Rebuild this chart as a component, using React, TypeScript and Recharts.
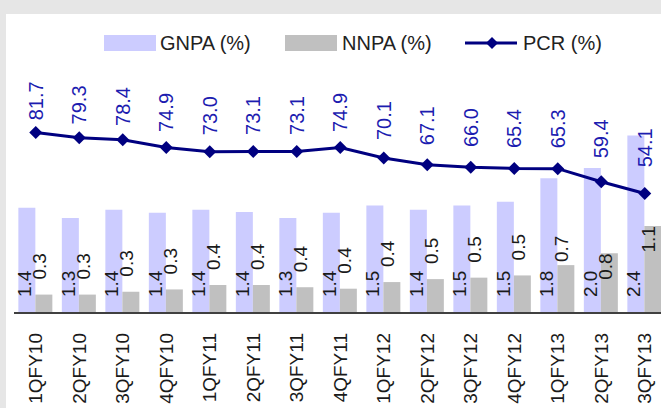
import { ComposedChart, Bar, Line, XAxis, YAxis, Legend, LabelList } from "recharts";

const quarters = [
  "1QFY10", "2QFY10", "3QFY10", "4QFY10",
  "1QFY11", "2QFY11", "3QFY11", "4QFY11",
  "1QFY12", "2QFY12", "3QFY12", "4QFY12",
  "1QFY13", "2QFY13", "3QFY13",
];

// bar heights
const gnpa = [1.43, 1.29, 1.4, 1.36, 1.4, 1.37, 1.29, 1.36, 1.46, 1.4, 1.46, 1.51, 1.83, 1.97, 2.41];
const nnpa = [0.25, 0.25, 0.29, 0.32, 0.38, 0.38, 0.35, 0.33, 0.42, 0.46, 0.48, 0.51, 0.65, 0.81, 1.18];

// printed data labels
const gnpaLabels = [1.4, 1.3, 1.4, 1.4, 1.4, 1.4, 1.3, 1.4, 1.5, 1.4, 1.5, 1.5, 1.8, 2.0, 2.4];
const nnpaLabels = [0.3, 0.3, 0.3, 0.3, 0.4, 0.4, 0.4, 0.4, 0.4, 0.5, 0.5, 0.5, 0.7, 0.8, 1.1];

const pcr = [81.7, 79.3, 78.4, 74.9, 73.0, 73.1, 73.1, 74.9, 70.1, 67.1, 66.0, 65.4, 65.3, 59.4, 54.1];

const data = quarters.map((q, i) => ({
  q,
  gnpa: gnpa[i],
  nnpa: nnpa[i],
  pcr: pcr[i],
  gnpaLabel: gnpaLabels[i].toFixed(1),
  nnpaLabel: nnpaLabels[i].toFixed(1),
  pcrLabel: pcr[i].toFixed(1),
}));

const FONT = "'Liberation Sans', Arial, sans-serif";
const GNPA_COLOR = "#ccccff";
const NNPA_COLOR = "#c0c0c0";
const PCR_COLOR = "#000080";
const AXIS_Y = 313;

function box(p: any) {
  const v = p.viewBox || {};
  return {
    x: v.x ?? p.x,
    y: v.y ?? p.y,
    w: v.width ?? p.width ?? 0,
    h: v.height ?? p.height ?? 0,
  };
}

function VText({ x, y, anchor, children, size = 19, fill = "#1a1a1a" }: any) {
  return (
    <text
      x={x}
      y={y}
      dy="0.35em"
      transform={`rotate(-90, ${x}, ${y})`}
      textAnchor={anchor}
      fontFamily={FONT}
      fontSize={size}
      fill={fill}
    >
      {children}
    </text>
  );
}

const GnpaLabel = (p: any) => {
  const b = box(p);
  return (
    <VText x={b.x + b.w / 2 - 2} y={b.y + b.h - 16} anchor="start">
      {p.value}
    </VText>
  );
};

const NnpaLabel = (p: any) => {
  const b = box(p);
  const cx = b.x + b.w / 2 - 4;
  const v = parseFloat(p.value);
  if (v >= 0.8) {
    return (
      <VText x={cx} y={b.y} anchor="end">
        {p.value}
      </VText>
    );
  }
  const gap = v >= 0.7 ? 3 : 15;
  return (
    <VText x={cx} y={b.y - gap} anchor="start">
      {p.value}
    </VText>
  );
};

const PcrLabel = (p: any) => {
  const b = box(p);
  const off = 12 + 0.23 * (b.y - 132);
  return (
    <VText x={b.x} y={b.y - off} anchor="start" size={20} fill="#1c1cb0">
      {p.value}
    </VText>
  );
};

const Diamond = (p: any) => {
  const { cx, cy, index } = p;
  if (cx == null || cy == null) return <g key={index} />;
  const r = 6.5;
  return (
    <path
      key={index}
      d={`M${cx},${cy - r}L${cx + r},${cy}L${cx},${cy + r}L${cx - r},${cy}Z`}
      fill={PCR_COLOR}
      stroke="none"
    />
  );
};

const QuarterTick = (p: any) => (
  <VText x={p.x} y={p.y + 20} anchor="end">
    {p.payload.value}
  </VText>
);

const LegendBox = () => (
  <div
    style={{
      position: "relative",
      width: 661,
      height: 34,
      fontFamily: FONT,
      fontSize: 20,
      color: "#222",
      lineHeight: "34px",
    }}
  >
    <div style={{ position: "absolute", left: 104, top: 9, width: 52, height: 16, background: GNPA_COLOR }} />
    <span style={{ position: "absolute", left: 160, top: 0 }}>GNPA (%)</span>
    <div style={{ position: "absolute", left: 285, top: 9, width: 52, height: 16, background: NNPA_COLOR }} />
    <span style={{ position: "absolute", left: 342, top: 0 }}>NNPA (%)</span>
    <svg style={{ position: "absolute", left: 465, top: 10 }} width={52} height={14}>
      <line x1={0} y1={7} x2={52} y2={7} stroke={PCR_COLOR} strokeWidth={3} />
      <path d="M27,1L33,7L27,13L21,7Z" fill={PCR_COLOR} />
    </svg>
    <span style={{ position: "absolute", left: 523, top: 0 }}>PCR (%)</span>
  </div>
);

export default function App() {
  return (
    <div
      style={{
        position: "absolute",
        left: 0,
        top: 0,
        width: 661,
        height: 408,
        overflow: "hidden",
        background: "#e6e6e6",
      }}
    >
      <div style={{ position: "absolute", left: 6, top: 14, right: 0, bottom: 0, background: "#ffffff" }} />
      <div style={{ position: "absolute", left: 0, top: 0 }}>
        <ComposedChart
          width={680}
          height={408}
          data={data}
          margin={{ top: 92, left: 14, right: 13.5, bottom: 0 }}
          barCategoryGap="10%"
          barGap={0}
        >
          <XAxis
            dataKey="q"
            interval={0}
            height={95}
            tickLine={false}
            tickSize={0}
            tickMargin={0}
            axisLine={{ stroke: "#404040", strokeWidth: 2 }}
            tick={QuarterTick}
          />
          <YAxis yAxisId="l" hide domain={[0, 3]} />
          <YAxis yAxisId="r" hide orientation="right" domain={[0, 100]} />
          <Legend
            layout="horizontal"
            verticalAlign="middle"
            content={LegendBox}
            wrapperStyle={{ top: 26, left: 0, width: 661, height: 34 }}
          />
          <Bar yAxisId="l" dataKey="gnpa" name="GNPA (%)" fill={GNPA_COLOR} isAnimationActive={false}>
            <LabelList dataKey="gnpaLabel" content={GnpaLabel} />
          </Bar>
          <Bar yAxisId="l" dataKey="nnpa" name="NNPA (%)" fill={NNPA_COLOR} isAnimationActive={false}>
            <LabelList dataKey="nnpaLabel" content={NnpaLabel} />
          </Bar>
          <Line
            yAxisId="r"
            dataKey="pcr"
            name="PCR (%)"
            stroke={PCR_COLOR}
            strokeWidth={3}
            dot={Diamond}
            activeDot={false}
            isAnimationActive={false}
          >
            <LabelList dataKey="pcrLabel" content={PcrLabel} />
          </Line>
        </ComposedChart>
      </div>
    </div>
  );
}
